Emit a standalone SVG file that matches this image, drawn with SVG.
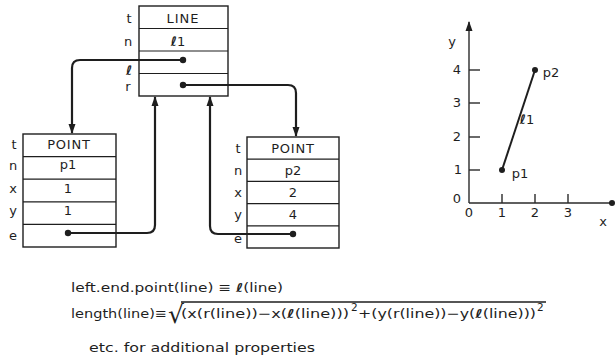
<svg xmlns="http://www.w3.org/2000/svg" width="615" height="359" viewBox="0 0 615 359">
<defs>
<marker id="arr" markerUnits="userSpaceOnUse" markerWidth="10" markerHeight="10" viewBox="0 0 10 10" refX="9" refY="5" orient="auto">
<path d="M0,1.5 L10,5 L0,8.5 Z" fill="#1e1e1e"/>
</marker>
<marker id="dot" markerUnits="userSpaceOnUse" markerWidth="8" markerHeight="8" viewBox="0 0 8 8" refX="4" refY="4">
<circle cx="4" cy="4" r="3.2" fill="#1e1e1e"/>
</marker>
<style>
text{font-family:"DejaVu Sans","Liberation Sans",sans-serif;fill:#1e1e1e}
.box{fill:none;stroke:#1e1e1e;stroke-width:1.4}
.row{stroke:#1e1e1e;stroke-width:1.2}
.lbl{font-size:13px;text-anchor:middle}
.val{font-size:13px;text-anchor:middle}
.conn{fill:none;stroke:#1e1e1e;stroke-width:2.2}
.ax{fill:none;stroke:#2a2a2a;stroke-width:1.4}
.eq{font-size:12.5px}
.sup{font-size:10.5px}
.scr{font-style:italic;font-weight:bold}
</style>
</defs>
<rect width="615" height="359" fill="#ffffff"/>

<g id="node-line">
<rect class="box" x="139" y="6" width="89" height="90"/>
<line class="row" x1="139" y1="28.5" x2="228" y2="28.5"/>
<line class="row" x1="139" y1="51" x2="228" y2="51"/>
<line class="row" x1="139" y1="73.5" x2="228" y2="73.5"/>
<text class="lbl" x="129" y="23">t</text>
<text class="lbl" x="128" y="46">n</text>
<text class="lbl scr" x="129" y="75">ℓ</text>
<text class="lbl" x="128" y="91">r</text>
<text class="val" x="183" y="23" letter-spacing="1">LINE</text>
<text class="val" x="178" y="46"><tspan class="scr">ℓ</tspan>1</text>
</g>

<g id="node-p1">
<rect class="box" x="23" y="134" width="93" height="113"/>
<line class="row" x1="23" y1="156.6" x2="116" y2="156.6"/>
<line class="row" x1="23" y1="179.2" x2="116" y2="179.2"/>
<line class="row" x1="23" y1="201.8" x2="116" y2="201.8"/>
<line class="row" x1="23" y1="224.4" x2="116" y2="224.4"/>
<text class="lbl" x="14" y="149">t</text>
<text class="lbl" x="13" y="170">n</text>
<text class="lbl" x="13" y="193">x</text>
<text class="lbl" x="13" y="215">y</text>
<text class="lbl" x="13" y="240">e</text>
<text class="val" x="69" y="149" letter-spacing="0.8">POINT</text>
<text class="val" x="68" y="169">p1</text>
<text class="val" x="68" y="193">1</text>
<text class="val" x="68" y="215">1</text>
</g>

<g id="node-p2">
<rect class="box" x="247" y="137" width="92" height="111"/>
<line class="row" x1="247" y1="159.2" x2="339" y2="159.2"/>
<line class="row" x1="247" y1="181.4" x2="339" y2="181.4"/>
<line class="row" x1="247" y1="203.6" x2="339" y2="203.6"/>
<line class="row" x1="247" y1="225.8" x2="339" y2="225.8"/>
<text class="lbl" x="238" y="153">t</text>
<text class="lbl" x="238" y="175">n</text>
<text class="lbl" x="238" y="197">x</text>
<text class="lbl" x="238" y="219">y</text>
<text class="lbl" x="238" y="243">e</text>
<text class="val" x="293" y="153" letter-spacing="0.8">POINT</text>
<text class="val" x="293" y="175">p2</text>
<text class="val" x="293" y="197">2</text>
<text class="val" x="293" y="219">4</text>
</g>

<g id="connectors">
<path class="conn" d="M183,60 H80 Q72,60 72,68 V133" marker-start="url(#dot)" marker-end="url(#arr)"/>
<path class="conn" d="M183,85 H288 Q296,85 296,93 V136" marker-start="url(#dot)" marker-end="url(#arr)"/>
<path class="conn" d="M68,233 H147 Q155,233 155,225 V97" marker-start="url(#dot)" marker-end="url(#arr)"/>
<path class="conn" d="M293,234 H218 Q210,234 210,226 V97" marker-start="url(#dot)" marker-end="url(#arr)"/>
</g>

<g id="graph">
<line class="ax" x1="469" y1="203" x2="469" y2="22" marker-end="url(#arr)"/>
<line class="ax" x1="469" y1="203" x2="612" y2="203"/>
<circle cx="612" cy="203" r="3" fill="#1e1e1e"/>
<line class="ax" x1="469" y1="70" x2="480" y2="70"/>
<line class="ax" x1="469" y1="103" x2="480" y2="103"/>
<line class="ax" x1="469" y1="137" x2="480" y2="137"/>
<line class="ax" x1="469" y1="170" x2="480" y2="170"/>
<line class="ax" x1="502" y1="194" x2="502" y2="203"/>
<line class="ax" x1="535" y1="194" x2="535" y2="203"/>
<line class="ax" x1="568" y1="194" x2="568" y2="203"/>
<text class="lbl" x="452" y="46">y</text>
<text class="lbl" x="457" y="74">4</text>
<text class="lbl" x="457" y="107">3</text>
<text class="lbl" x="457" y="141">2</text>
<text class="lbl" x="458" y="174">1</text>
<text class="lbl" x="457" y="203">0</text>
<text class="lbl" x="469" y="217">0</text>
<text class="lbl" x="502" y="217">1</text>
<text class="lbl" x="535" y="217">2</text>
<text class="lbl" x="568" y="217">3</text>
<text class="lbl" x="603" y="226">x</text>
<line x1="502" y1="170" x2="535" y2="70" stroke="#1e1e1e" stroke-width="2"/>
<circle cx="502" cy="170" r="3" fill="#1e1e1e"/>
<circle cx="535" cy="70" r="3" fill="#1e1e1e"/>
<text class="lbl" x="520" y="178">p1</text>
<text class="lbl" x="551" y="77">p2</text>
<text class="lbl" x="527" y="124"><tspan class="scr">ℓ</tspan>1</text>
</g>

<g id="equations">
<text class="eq" x="71" y="292" textLength="212" lengthAdjust="spacingAndGlyphs">left.end.point(line) ≡ <tspan class="scr">ℓ</tspan>(line)</text>
<text class="eq" x="71" y="318" textLength="96" lengthAdjust="spacingAndGlyphs">length(line)≡</text>
<text x="168" y="323" style="font-size:25px">√</text>
<line x1="181" y1="302" x2="546" y2="302" stroke="#1e1e1e" stroke-width="1.3"/>
<text class="eq" x="181" y="318" textLength="168" lengthAdjust="spacingAndGlyphs">(x(r(line))−x(<tspan class="scr">ℓ</tspan>(line)))</text>
<text class="sup" x="351" y="311">2</text>
<text class="eq" x="358" y="318" textLength="178" lengthAdjust="spacingAndGlyphs">+(y(r(line))−y(<tspan class="scr">ℓ</tspan>(line)))</text>
<text class="sup" x="537" y="311">2</text>
<text class="eq" x="89" y="352" textLength="226" lengthAdjust="spacingAndGlyphs">etc. for additional properties</text>
</g>
</svg>
